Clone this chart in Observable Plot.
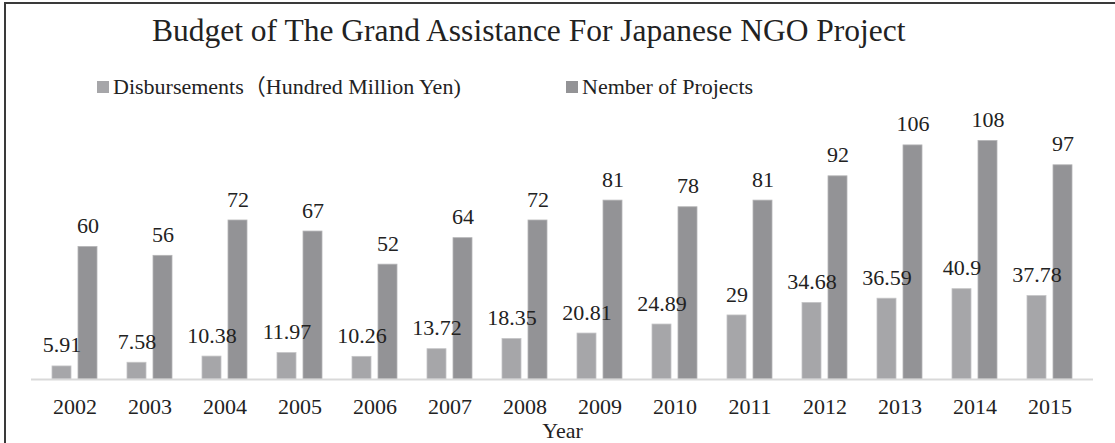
<!DOCTYPE html>
<html>
<head>
<meta charset="utf-8">
<script src="https://cdn.jsdelivr.net/npm/d3@7"></script>
<script src="https://cdn.jsdelivr.net/npm/@observablehq/plot@0.6"></script>
<style>
  html, body { margin: 0; padding: 0; background: #fff; }
  #wrap { position: relative; width: 1115px; height: 443px; overflow: hidden; font-family: "Liberation Serif", "DejaVu Serif", "Noto Sans CJK JP", serif; color: #222; }
  #frame { position: absolute; left: 4px; top: 2px; width: 1200px; height: 600px; border-top: 2px solid #3a3a3a; border-left: 2px solid #3a3a3a; box-sizing: border-box; }
  #title { position: absolute; left: 152px; top: 15px; font-size: 31.5px; white-space: nowrap; line-height: 1; }
  .leg { position: absolute; top: 76px; font-size: 22px; white-space: nowrap; line-height: 1; display: flex; align-items: center; }
  .sw { display: inline-block; width: 12px; height: 12px; margin-right: 4px; }
  #chart { position: absolute; left: 0; top: 0; }
</style>
</head>
<body>
<div id="wrap">
  <div id="frame"></div>
  <div id="chart"></div>
  <div id="title"></div>
  <div class="leg" id="leg1" style="left:97px"></div>
  <div class="leg" id="leg2" style="left:566px"></div>
</div>
<script>
const titleText = "Budget of The Grand Assistance For Japanese NGO Project";
const seriesNames = ["Disbursements（Hundred Million Yen)", "Nember of Projects"];
const seriesColors = ["#a6a6a9", "#939396"];
const years = ["2002","2003","2004","2005","2006","2007","2008","2009","2010","2011","2012","2013","2014","2015"];
const disbursements = [5.91, 7.58, 10.38, 11.97, 10.26, 13.72, 18.35, 20.81, 24.89, 29, 34.68, 36.59, 40.9, 37.78];
const projects = [60, 56, 72, 67, 52, 64, 72, 81, 78, 81, 92, 106, 108, 97];
const xLabel = "Year";

document.getElementById("title").textContent = titleText;
[["leg1", 0], ["leg2", 1]].forEach(([id, i]) => {
  const el = document.getElementById(id);
  const sw = document.createElement("span");
  sw.className = "sw"; sw.style.background = seriesColors[i];
  const t = document.createElement("span");
  t.textContent = seriesNames[i];
  el.appendChild(sw); el.appendChild(t);
});

const dataD = years.map((y, i) => ({year: y, value: disbursements[i]}));
const dataP = years.map((y, i) => ({year: y, value: projects[i]}));
const font = "Liberation Serif, DejaVu Serif, serif";

const chart = Plot.plot({
  width: 1115,
  height: 443,
  marginLeft: 31,
  marginRight: 22,
  marginTop: 114,
  marginBottom: 64,
  style: {fontFamily: font, background: "transparent", color: "#222"},
  x: {type: "band", domain: years, padding: 0},
  y: {domain: [0, 120], axis: null},
  marks: [
    Plot.barY(dataD, {x: "year", y: "value", fill: seriesColors[0], stroke: "#c4c4c6", strokeWidth: 0.8, insetLeft: 15, insetRight: 41}),
    Plot.barY(dataP, {x: "year", y: "value", fill: seriesColors[1], stroke: "#b4b4b6", strokeWidth: 0.8, insetLeft: 41, insetRight: 15}),
    Plot.ruleY([0], {stroke: "#d9d9d9", strokeWidth: 2}),
    Plot.text(dataD, {x: "year", y: "value", text: d => String(d.value), dx: -13, dy: -21, lineAnchor: "middle", fontSize: 22, fill: "#222"}),
    Plot.text(dataP, {x: "year", y: "value", text: d => String(d.value), dx: 13, dy: -21, lineAnchor: "middle", fontSize: 22, fill: "#222"}),
    Plot.axisX({tickSize: 0, tickPadding: 19, fontSize: 22, label: null}),
    Plot.text([xLabel], {frameAnchor: "bottom", dy: 58, lineAnchor: "bottom", fontSize: 22, fill: "#222"})
  ]
});
document.getElementById("chart").appendChild(chart);
</script>
</body>
</html>
